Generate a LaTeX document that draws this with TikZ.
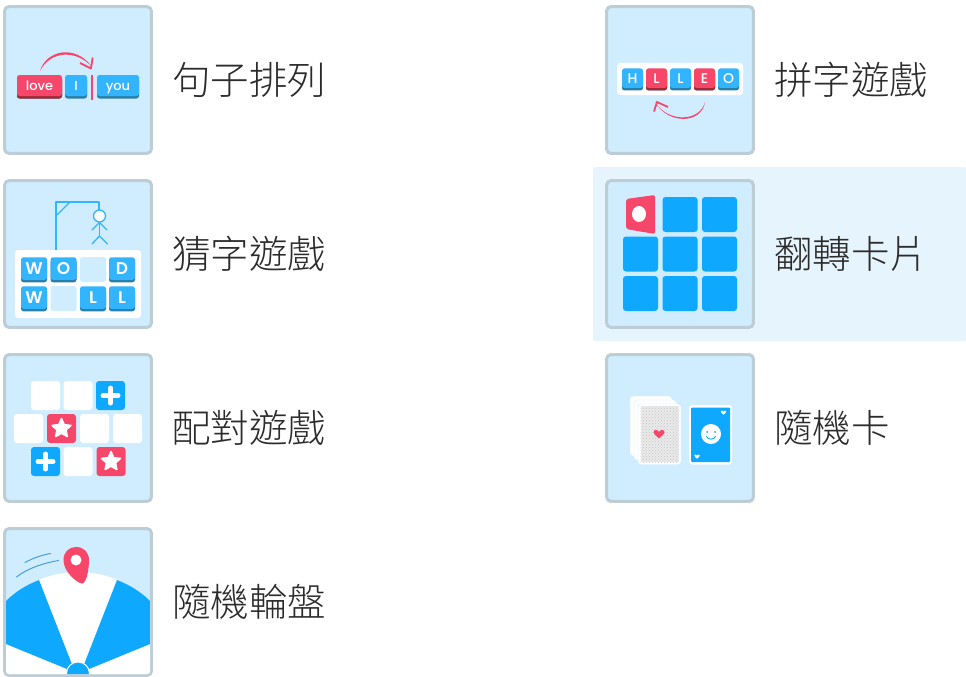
\documentclass[tikz,border=0pt]{standalone}
\usepackage{fontspec}
\newfontfamily\cjkfont[UprightFont={* Light}]{Noto Sans CJK TC}
\newfontfamily\tilefont[BoldFont={* Medium}]{Poppins}
\newfontfamily\bigkeyfont[UprightFont={* SemiBold}]{Poppins}
\usetikzlibrary{positioning,shapes.geometric,patterns}
\definecolor{CardClr}{HTML}{CFEDFF}
\definecolor{EdgeClr}{HTML}{BCCDD6}
\definecolor{RowClr}{HTML}{E6F5FD}
\definecolor{BlueClr}{HTML}{0FA8FF}
\definecolor{KeyClr}{HTML}{33B4FF}
\definecolor{KeyDarkClr}{HTML}{2A7FA8}
\definecolor{RedClr}{HTML}{F6476A}
\definecolor{RedDarkClr}{HTML}{A32A35}
\definecolor{LineClr}{HTML}{4A9FD6}
\definecolor{TextClr}{HTML}{2B2B2B}
\definecolor{BackClr}{HTML}{C4C4C4}
\definecolor{BackFillClr}{HTML}{EAEAEA}
\tikzset{
  card/.style={draw=EdgeClr,line width=3pt,fill=CardClr,rounded corners=4pt,minimum size=146.6pt,inner sep=0pt},
  title/.style={text=TextClr,font=\cjkfont\fontsize{38.5}{38.5}\selectfont,inner sep=0pt,anchor=west},
  keyblue/.style={fill=KeyClr,rounded corners=2.5pt,inner sep=0pt,text=white,font=\tilefont\bfseries\fontsize{14}{14}\selectfont,
    text height=9.8pt,text depth=0pt,
    preaction={fill=KeyDarkClr,transform canvas={yshift=-2.5pt}}},
  keyred/.style={keyblue,fill=RedClr,preaction={fill=RedDarkClr,transform canvas={yshift=-2.5pt}}},
  wordkey/.style={minimum height=21pt,font=\tilefont\bfseries\fontsize{13}{13}\selectfont,text height=9.5pt},
  smallkey/.style={minimum width=21pt,minimum height=19.5pt},
  bigkey/.style={minimum width=26pt,minimum height=22.5pt,font=\bigkeyfont\fontsize{17}{17}\selectfont,text height=12pt},
  gapkey/.style={fill=CardClr,rounded corners=2.5pt,minimum width=26pt,minimum height=25pt,inner sep=0pt},
  panel/.style={fill=white,rounded corners=3pt,inner sep=0pt},
  pairtile/.style={fill=white,rounded corners=3pt,minimum size=29pt,inner sep=0pt},
  pairblue/.style={pairtile,fill=BlueClr},
  pairred/.style={pairtile,fill=RedClr},
  startile/.style={star,star points=5,star point ratio=2.1,fill=white,draw=white,line width=1.5pt,line join=round,minimum size=20pt,inner sep=0pt},
  plusline/.style={draw=white,line width=5pt,line cap=round},
  flip/.style={fill=BlueClr,rounded corners=3pt,minimum size=35pt,inner sep=0pt},
  gallows/.style={draw=KeyClr,line width=1.3pt,line cap=round,line join=round},
  heart/.pic={\fill[pic actions] (0,4) .. controls (-2,2.2) and (-5,0) .. (-5,-1.8) .. controls (-5,-4) and (-1.5,-4.5) .. (0,-2) .. controls (1.5,-4.5) and (5,-4) .. (5,-1.8) .. controls (5,0) and (2,2.2) .. (0,4) -- cycle;},
}

\begin{document}
\begin{tikzpicture}[x=1pt,y=-1pt]
\useasboundingbox (0,0) rectangle (966,677);

\fill[RowClr,rounded corners=1pt] (593,167) rectangle (966,341);

\node[card] (sentence) at (78,80) {};
\node[card] (hangman) at (78,254) {};
\node[card] (pairs) at (78,428) {};
\node[card] (wheel) at (78,602) {};
\node[card] (spell) at (680,80) {};
\node[card] (flipcards) at (680,254) {};
\node[card] (randomcard) at (680,428) {};

\node[title,right=19.4pt of sentence] (sentencetitle) {句子排列};
\node[title,right=19.4pt of hangman] (hangmantitle) {猜字遊戲};
\node[title,right=19.4pt of pairs] (pairstitle) {配對遊戲};
\node[title,right=19.4pt of wheel] (wheeltitle) {隨機輪盤};
\node[title,right=19.4pt of spell] (spelltitle) {拼字遊戲};
\node[title,right=19.4pt of flipcards] (flipcardstitle) {翻轉卡片};
\node[title,right=19.4pt of randomcard] (randomcardtitle) {隨機卡};

\node[keyred,wordkey,minimum width=45pt] (love) at (39.5,85.5) {love};
\node[keyblue,wordkey,minimum width=22pt] (wordi) at (76,85.5) {I};
\node[keyblue,wordkey,minimum width=42pt] (you) at (118,85.5) {you};
\fill[RedClr] (91,75) rectangle (93,100);
\fill[RedClr] (40,71) .. controls (46,50) and (76,44) .. (92,67) .. controls (76,49) and (50,51) .. (40,71) -- cycle;
\draw[RedClr,line width=1.8pt,line join=round] (92.7,57.5) -- (91,68.5) -- (80,63);

\draw[gallows] (56,250) -- (56,202) -- (99,202) -- (99,210);
\draw[gallows] (57,215) -- (70,202);
\node[circle,draw=KeyClr,line width=1.3pt,fill=white,minimum size=12pt,inner sep=0pt] (head) at (99.5,216) {};
\draw[gallows] (head) -- (99.5,236);
\draw[gallows] (92,230) -- (99.5,222.5) -- (107,230);
\draw[gallows] (92,244) -- (99.5,236) -- (107.5,244);
\node[panel,minimum width=126pt,minimum height=68pt] (hangpanel) at (78,284) {};
\node[keyblue,bigkey] (hangw) at (34,268.5) {W};
\node[keyblue,bigkey] (hango) at (63.5,268.5) {O};
\node[gapkey] (hanggapa) at (93,269.5) {};
\node[keyblue,bigkey] (hangd) at (122,268.5) {D};
\node[keyblue,bigkey] (hangv) at (34,297.5) {W};
\node[gapkey] (hanggapb) at (63.5,298.5) {};
\node[keyblue,bigkey] (hangl) at (93,297.5) {L};
\node[keyblue,bigkey] (hangm) at (122,297.5) {L};

\node[pairtile] (pairaa) at (45.5,395.5) {};
\node[pairtile] (pairab) at (78,395.5) {};
\node[pairblue] (pairac) at (110.5,395.5) {};
\node[pairtile] (pairba) at (28.5,428.5) {};
\node[pairred] (pairbb) at (61.5,428.5) {};
\node[pairtile] (pairbc) at (94.5,428.5) {};
\node[pairtile] (pairbd) at (127.5,428.5) {};
\node[pairblue] (pairca) at (45.5,461.5) {};
\node[pairtile] (paircb) at (78,461.5) {};
\node[pairred] (paircc) at (111,461.5) {};
\node[startile] (stara) at (pairbb) {};
\node[startile] (starb) at (paircc) {};
\draw[plusline] (103,395.5) -- (118,395.5);
\draw[plusline] (110.5,388) -- (110.5,403);
\draw[plusline] (38,461.5) -- (53,461.5);
\draw[plusline] (45.5,454) -- (45.5,469);

\begin{scope}
\clip[rounded corners=3pt] (6,530) rectangle (150,674);
\fill[white] (78,673) circle (101);
\fill[white] (6,640) rectangle (150,676);
\fill[BlueClr] (6,644) -- (67,669) -- (73,667) -- (39,580) .. controls (26,585) and (15,592) .. (6,601) -- cycle;
\fill[BlueClr] (150,644) -- (89,669) -- (83,667) -- (117,580) .. controls (130,585) and (141,592) .. (150,601) -- cycle;
\node[circle,fill=BlueClr,draw=white,line width=1pt,minimum size=23pt,inner sep=0pt] (hub) at (78,673.5) {};
\end{scope}
\draw[LineClr,line width=1pt,line cap=round] (16.5,577) .. controls (28,568) and (44,563) .. (58.5,560.5);
\draw[LineClr,line width=1pt,line cap=round] (25,562.5) .. controls (33,558) and (42,555) .. (50.5,553.5);
\fill[RedClr,line join=round] (82,583.5) .. controls (77,583) and (63.5,572) .. (63.5,560) .. controls (63.5,552) and (69,547) .. (76,547) .. controls (84,547) and (89,552.5) .. (89,560) .. controls (89,568) and (87,583) .. (82,583.5) -- cycle;
\node[circle,fill=white,minimum size=11pt,inner sep=0pt] (pinhole) at (76,560) {};

\node[panel,minimum width=126pt,minimum height=32pt] (spellpanel) at (680,79) {};
\node[keyblue,smallkey] (spellh) at (632.5,78.2) {H};
\node[keyred,smallkey] (spella) at (656.5,78.2) {L};
\node[keyblue,smallkey] (spellb) at (680.5,78.2) {L};
\node[keyred,smallkey] (spelle) at (704.5,78.2) {E};
\node[keyblue,smallkey] (spello) at (728.5,78.2) {O};
\fill[RedClr] (705,102) .. controls (702,124) and (668,125) .. (655,102) .. controls (668,123) and (700,122) .. (705,102) -- cycle;
\draw[RedClr,line width=1.8pt,line join=round] (654,111.5) -- (657,102) -- (668,107);

\fill[RedClr,rounded corners=2pt] (626,199) -- (655,195) -- (655,234) -- (626,229) -- cycle;
\node[ellipse,fill=white,minimum width=14pt,minimum height=16pt,inner sep=0pt] (flipdot) at (639,214) {};
\node[flip] (flipab) at (680,214.5) {};
\node[flip] (flipac) at (719.5,214.5) {};
\node[flip] (flipba) at (640.5,254) {};
\node[flip] (flipbb) at (680,254) {};
\node[flip] (flipbc) at (719.5,254) {};
\node[flip] (flipca) at (640.5,293.5) {};
\node[flip] (flipcb) at (680,293.5) {};
\node[flip] (flipcc) at (719.5,293.5) {};

\fill[white,rounded corners=3pt,draw=CardClr,line width=.4pt] (630,396) rectangle (672,456);
\fill[white,rounded corners=3pt,draw=CardClr,line width=.4pt] (634,400) rectangle (676.5,460);
\fill[white,rounded corners=3pt,draw=CardClr,line width=.4pt] (638,404) rectangle (681,464.5);
\fill[BackFillClr] (640.5,406) rectangle (679,462);
\fill[pattern=crosshatch dots,pattern color=BackClr] (640.5,406) rectangle (679,462);
\pic[fill=RedClr,scale=1.1] at (659,434) {heart};
\fill[white,rounded corners=3pt] (689,405) rectangle (732,464.5);
\fill[BlueClr,rounded corners=1pt] (691,407.5) rectangle (730,462);
\node[circle,fill=white,minimum size=20pt,inner sep=0pt] (face) at (711,434) {};
\fill[BlueClr] (707,432) circle (1);
\fill[BlueClr] (715,432) circle (1);
\draw[BlueClr,line width=.9pt,line cap=round] (706.5,436.5) .. controls (708,440) and (714,440) .. (715.5,436.5);
\pic[fill=white,scale=.55] at (723.5,412.5) {heart};
\pic[fill=white,scale=.55] at (697,456.5) {heart};

\end{tikzpicture}
\end{document}
